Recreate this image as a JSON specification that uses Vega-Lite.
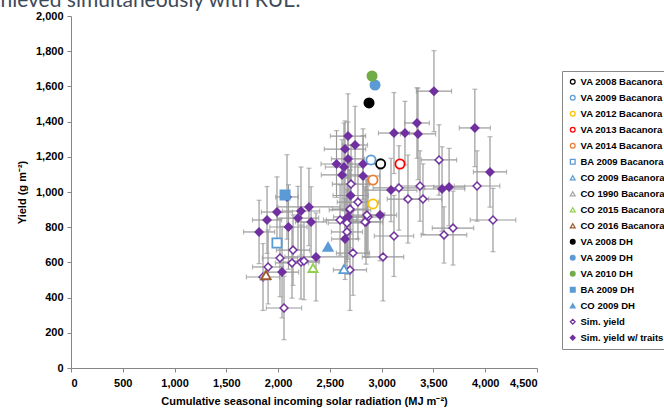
{
  "$schema": "https://vega.github.io/schema/vega-lite/v6.json",
  "width": 466,
  "height": 352,
  "autosize": {"type": "none"},
  "padding": {"left": 71, "top": 16, "right": 127, "bottom": 40},
  "background": "white",
  "title": {"text": "achieved simultaneously with RUE.", "anchor": "start", "frame": "group", "font": "Lato", "fontSize": 21, "fontWeight": "normal", "color": "#3e4a5a", "dx": -91, "dy": 18, "offset": 0, "baseline": "alphabetic"},
  "datasets": {
    "sim": [
      {"x": 3341, "y": 1392, "xe": 120, "ye": 200, "s": "Sim. yield w/ traits"},
      {"x": 3119, "y": 1335, "xe": 150, "ye": 230, "s": "Sim. yield w/ traits"},
      {"x": 3225, "y": 1335, "xe": 130, "ye": 180, "s": "Sim. yield w/ traits"},
      {"x": 3351, "y": 1330, "xe": 170, "ye": 260, "s": "Sim. yield w/ traits"},
      {"x": 3900, "y": 1364, "xe": 150, "ye": 220, "s": "Sim. yield w/ traits"},
      {"x": 3505, "y": 1573, "xe": 170, "ye": 230, "s": "Sim. yield w/ traits"},
      {"x": 4046, "y": 1114, "xe": 160, "ye": 200, "s": "Sim. yield w/ traits"},
      {"x": 3090, "y": 1011, "xe": 250, "ye": 180, "s": "Sim. yield w/ traits"},
      {"x": 3583, "y": 1017, "xe": 220, "ye": 240, "s": "Sim. yield w/ traits"},
      {"x": 3651, "y": 1028, "xe": 150, "ye": 220, "s": "Sim. yield w/ traits"},
      {"x": 2984, "y": 869, "xe": 160, "ye": 260, "s": "Sim. yield w/ traits"},
      {"x": 2675, "y": 1318, "xe": 170, "ye": 240, "s": "Sim. yield w/ traits"},
      {"x": 2743, "y": 1267, "xe": 120, "ye": 220, "s": "Sim. yield w/ traits"},
      {"x": 2646, "y": 1244, "xe": 200, "ye": 160, "s": "Sim. yield w/ traits"},
      {"x": 2820, "y": 1159, "xe": 130, "ye": 200, "s": "Sim. yield w/ traits"},
      {"x": 2675, "y": 1188, "xe": 160, "ye": 210, "s": "Sim. yield w/ traits"},
      {"x": 2564, "y": 1159, "xe": 150, "ye": 190, "s": "Sim. yield w/ traits"},
      {"x": 2636, "y": 1142, "xe": 180, "ye": 250, "s": "Sim. yield w/ traits"},
      {"x": 2820, "y": 1091, "xe": 160, "ye": 230, "s": "Sim. yield w/ traits"},
      {"x": 2617, "y": 1097, "xe": 200, "ye": 200, "s": "Sim. yield w/ traits"},
      {"x": 2675, "y": 858, "xe": 140, "ye": 240, "s": "Sim. yield w/ traits"},
      {"x": 2646, "y": 733, "xe": 130, "ye": 230, "s": "Sim. yield w/ traits"},
      {"x": 2086, "y": 972, "xe": 110, "ye": 240, "s": "Sim. yield w/ traits"},
      {"x": 1989, "y": 886, "xe": 150, "ye": 200, "s": "Sim. yield w/ traits"},
      {"x": 2221, "y": 892, "xe": 180, "ye": 250, "s": "Sim. yield w/ traits"},
      {"x": 2298, "y": 915, "xe": 300, "ye": 220, "s": "Sim. yield w/ traits"},
      {"x": 1893, "y": 841, "xe": 140, "ye": 190, "s": "Sim. yield w/ traits"},
      {"x": 2192, "y": 852, "xe": 200, "ye": 180, "s": "Sim. yield w/ traits"},
      {"x": 2318, "y": 830, "xe": 150, "ye": 200, "s": "Sim. yield w/ traits"},
      {"x": 2100, "y": 801, "xe": 180, "ye": 240, "s": "Sim. yield w/ traits"},
      {"x": 1816, "y": 773, "xe": 150, "ye": 180, "s": "Sim. yield w/ traits"},
      {"x": 2646, "y": 841, "xe": 180, "ye": 260, "s": "Sim. yield w/ traits"},
      {"x": 2694, "y": 898, "xe": 200, "ye": 230, "s": "Sim. yield w/ traits"},
      {"x": 2366, "y": 631, "xe": 300, "ye": 250, "s": "Sim. yield w/ traits"},
      {"x": 2038, "y": 545, "xe": 160, "ye": 260, "s": "Sim. yield w/ traits"},
      {"x": 2700, "y": 980, "xe": 170, "ye": 220, "s": "Sim. yield w/ traits"},
      {"x": 3554, "y": 1182, "xe": 170, "ye": 200, "s": "Sim. yield"},
      {"x": 2704, "y": 1045, "xe": 180, "ye": 220, "s": "Sim. yield"},
      {"x": 3167, "y": 1023, "xe": 250, "ye": 240, "s": "Sim. yield"},
      {"x": 3370, "y": 1034, "xe": 220, "ye": 200, "s": "Sim. yield"},
      {"x": 3254, "y": 960, "xe": 200, "ye": 250, "s": "Sim. yield"},
      {"x": 3399, "y": 960, "xe": 180, "ye": 200, "s": "Sim. yield"},
      {"x": 2771, "y": 943, "xe": 200, "ye": 210, "s": "Sim. yield"},
      {"x": 2694, "y": 903, "xe": 170, "ye": 220, "s": "Sim. yield"},
      {"x": 2868, "y": 858, "xe": 150, "ye": 230, "s": "Sim. yield"},
      {"x": 2849, "y": 830, "xe": 160, "ye": 240, "s": "Sim. yield"},
      {"x": 3119, "y": 750, "xe": 190, "ye": 230, "s": "Sim. yield"},
      {"x": 3602, "y": 756, "xe": 220, "ye": 160, "s": "Sim. yield"},
      {"x": 3689, "y": 795, "xe": 200, "ye": 210, "s": "Sim. yield"},
      {"x": 2723, "y": 653, "xe": 160, "ye": 240, "s": "Sim. yield"},
      {"x": 3013, "y": 631, "xe": 200, "ye": 250, "s": "Sim. yield"},
      {"x": 3921, "y": 1034, "xe": 220, "ye": 200, "s": "Sim. yield"},
      {"x": 4075, "y": 841, "xe": 220, "ye": 180, "s": "Sim. yield"},
      {"x": 2598, "y": 841, "xe": 160, "ye": 200, "s": "Sim. yield"},
      {"x": 2665, "y": 824, "xe": 180, "ye": 220, "s": "Sim. yield"},
      {"x": 2839, "y": 830, "xe": 150, "ye": 200, "s": "Sim. yield"},
      {"x": 2858, "y": 869, "xe": 170, "ye": 220, "s": "Sim. yield"},
      {"x": 2665, "y": 773, "xe": 150, "ye": 240, "s": "Sim. yield"},
      {"x": 2694, "y": 557, "xe": 160, "ye": 230, "s": "Sim. yield"},
      {"x": 2144, "y": 670, "xe": 160, "ye": 200, "s": "Sim. yield"},
      {"x": 2018, "y": 625, "xe": 170, "ye": 220, "s": "Sim. yield"},
      {"x": 1903, "y": 574, "xe": 150, "ye": 210, "s": "Sim. yield"},
      {"x": 1854, "y": 517, "xe": 160, "ye": 190, "s": "Sim. yield"},
      {"x": 2134, "y": 597, "xe": 160, "ye": 200, "s": "Sim. yield"},
      {"x": 2221, "y": 602, "xe": 170, "ye": 210, "s": "Sim. yield"},
      {"x": 2250, "y": 608, "xe": 150, "ye": 220, "s": "Sim. yield"},
      {"x": 2057, "y": 341, "xe": 170, "ye": 180, "s": "Sim. yield"}
    ],
    "obs": [
      {"x": 2990, "y": 1160, "s": "VA 2008 Bacanora"},
      {"x": 2897, "y": 1182, "s": "VA 2009 Bacanora"},
      {"x": 2916, "y": 932, "s": "VA 2012 Bacanora"},
      {"x": 3177, "y": 1159, "s": "VA 2013 Bacanora"},
      {"x": 2916, "y": 1068, "s": "VA 2014 Bacanora"},
      {"x": 1989, "y": 710, "s": "BA 2009 Bacanora"},
      {"x": 2636, "y": 562, "s": "CO 2009 Bacanora"},
      {"x": 1875, "y": 525, "s": "CO 1990 Bacanora"},
      {"x": 2337, "y": 568, "s": "CO 2015 Bacanora"},
      {"x": 1883, "y": 528, "s": "CO 2016 Bacanora"},
      {"x": 2878, "y": 1506, "s": "VA 2008 DH"},
      {"x": 2936, "y": 1608, "s": "VA 2009 DH"},
      {"x": 2907, "y": 1659, "s": "VA 2010 DH"},
      {"x": 2067, "y": 983, "s": "BA 2009 DH"},
      {"x": 2482, "y": 688, "s": "CO 2009 DH"}
    ]
  },
  "encoding": {
    "x": {"field": "x", "type": "quantitative", "scale": {"domain": [0, 4500], "nice": false},
      "axis": {"values": [0, 500, 1000, 1500, 2000, 2500, 3000, 3500, 4000, 4500], "format": ",d", "title": "Cumulative seasonal incoming solar radiation (MJ m⁻²)", "labelPadding": 5, "titlePadding": 7}},
    "y": {"field": "y", "type": "quantitative", "scale": {"domain": [0, 2000], "nice": false},
      "axis": {"values": [0, 200, 400, 600, 800, 1000, 1200, 1400, 1600, 1800, 2000], "format": ",d", "title": "Yield (g m⁻²)", "labelPadding": 4, "titlePadding": 8}}
  },
  "layer": [
    {
      "data": {"name": "sim"},
      "mark": {"type": "errorbar", "ticks": {"size": 5}, "color": "#9a9a9a", "thickness": 1.2},
      "encoding": {"xError": {"field": "xe"}}
    },
    {
      "data": {"name": "sim"},
      "mark": {"type": "errorbar", "ticks": {"size": 5}, "color": "#9a9a9a", "thickness": 1.2},
      "encoding": {"yError": {"field": "ye"}}
    },
    {
      "data": {"name": "sim"},
      "mark": {"type": "point", "size": 62, "strokeWidth": 1.5, "opacity": 1},
      "encoding": {
        "shape": {"field": "s", "type": "nominal", "scale": {"domain": ["VA 2008 Bacanora", "VA 2009 Bacanora", "VA 2012 Bacanora", "VA 2013 Bacanora", "VA 2014 Bacanora", "BA 2009 Bacanora", "CO 2009 Bacanora", "CO 1990 Bacanora", "CO 2015 Bacanora", "CO 2016 Bacanora", "VA 2008 DH", "VA 2009 DH", "VA 2010 DH", "BA 2009 DH", "CO 2009 DH", "Sim. yield", "Sim. yield w/ traits"], "range": ["circle", "circle", "circle", "circle", "circle", "square", "triangle-up", "triangle-up", "triangle-up", "triangle-up", "circle", "circle", "circle", "square", "triangle-up", "diamond", "diamond"]}, "legend": {"title": null}},
        "fill": {"field": "s", "type": "nominal", "scale": {"domain": ["VA 2008 Bacanora", "VA 2009 Bacanora", "VA 2012 Bacanora", "VA 2013 Bacanora", "VA 2014 Bacanora", "BA 2009 Bacanora", "CO 2009 Bacanora", "CO 1990 Bacanora", "CO 2015 Bacanora", "CO 2016 Bacanora", "VA 2008 DH", "VA 2009 DH", "VA 2010 DH", "BA 2009 DH", "CO 2009 DH", "Sim. yield", "Sim. yield w/ traits"], "range": ["white", "white", "white", "white", "white", "white", "white", "white", "white", "white", "#000000", "#5b9bd5", "#70ad47", "#5b9bd5", "#5b9bd5", "white", "#7030a0"]}, "legend": {"title": null}},
        "stroke": {"field": "s", "type": "nominal", "scale": {"domain": ["VA 2008 Bacanora", "VA 2009 Bacanora", "VA 2012 Bacanora", "VA 2013 Bacanora", "VA 2014 Bacanora", "BA 2009 Bacanora", "CO 2009 Bacanora", "CO 1990 Bacanora", "CO 2015 Bacanora", "CO 2016 Bacanora", "VA 2008 DH", "VA 2009 DH", "VA 2010 DH", "BA 2009 DH", "CO 2009 DH", "Sim. yield", "Sim. yield w/ traits"], "range": ["#000000", "#5b9bd5", "#ffc000", "#ff0000", "#ed7d31", "#5b9bd5", "#5b9bd5", "#a5a5a5", "#92d050", "#9c5a2c", "#000000", "#5b9bd5", "#70ad47", "#5b9bd5", "#5b9bd5", "#7030a0", "#7030a0"]}, "legend": {"title": null}}
      }
    },
    {
      "data": {"name": "obs"},
      "mark": {"type": "point", "size": 85, "strokeWidth": 1.8, "opacity": 1},
      "encoding": {
        "shape": {"field": "s", "type": "nominal", "legend": {"title": null}},
        "fill": {"field": "s", "type": "nominal", "legend": {"title": null}},
        "stroke": {"field": "s", "type": "nominal", "legend": {"title": null}}
      }
    }
  ],
  "config": {
    "view": {"stroke": null},
    "axis": {"grid": false, "domainColor": "#868686", "tickColor": "#868686", "tickSize": 4, "labelFont": "Liberation Sans", "labelFontWeight": "bold", "labelFontSize": 11, "labelColor": "#000000", "titleFont": "Liberation Sans", "titleFontWeight": "bold", "titleFontSize": 11, "titleColor": "#000000"},
    "legend": {"orient": "none", "legendX": 491, "legendY": 55, "strokeColor": "#888888", "padding": 6, "symbolSize": 22, "symbolStrokeWidth": 1.3, "labelFont": "Liberation Sans", "labelFontWeight": "bold", "labelFontSize": 9.5, "labelColor": "#000000", "labelLimit": 300, "rowPadding": 5, "labelOffset": 3}
  }
}
